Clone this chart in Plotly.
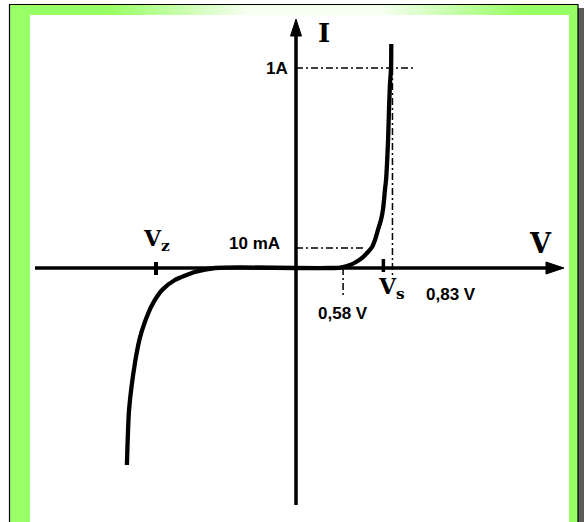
import numpy as np
import plotly.graph_objects as go

# ---- diode characteristic, forward branch (volts, amperes)
v_fwd = [0.0, 0.493, 0.561, 0.621, 0.655, 0.692, 0.717, 0.737, 0.751, 0.765, 0.779, 0.788,
         0.793, 0.797, 0.802, 0.806, 0.811, 0.815, 0.819, 0.824, 0.825]
i_fwd = [0.0, 0.0, 0.000006, 0.000225, 0.0009, 0.003, 0.0064, 0.011, 0.0196, 0.0361, 0.0576, 0.0841,
         0.1156, 0.152, 0.194, 0.265, 0.41, 0.624, 0.837, 1.0, 1.254]

# ---- reverse branch with breakdown
v_rev = [0.0, -0.76, -0.85, -0.93, -0.978, -1.014, -1.039, -1.056, -1.072, -1.092, -1.099]
i_rev = [0.0, 0.0, -0.0004, -0.0036, -0.0121, -0.0342, -0.073, -0.1225, -0.221, -0.504, -0.97]

# ---- marked values
v_marks = [0.58, 0.83]
v_mark_labels = ["0,58 V", "0,83 V"]
i_marks = [0.01, 1.0]
i_mark_labels = ["10 mA", "1A"]
v_z = -1.0      # breakdown voltage
v_s = 0.79      # threshold voltage

W, H = 584, 522
OX, OY = 296, 268          # origin on the page
KX, KY = 140.0, 200.0      # page pixels per display unit


def xd(v):
    """Schematic horizontal scale (signed square of the voltage)."""
    v = np.asarray(v, dtype=float)
    return np.sign(v) * v ** 2


def yd(i):
    """Schematic vertical scale (signed square root of the current)."""
    i = np.asarray(i, dtype=float)
    return np.sign(i) * np.sqrt(np.abs(i))


def ux(px):
    return (px - OX) / KX


def uy(py):
    return (OY - py) / KY


def paper_x(px):
    return px / W


def paper_y(py):
    return 1 - py / H


fig = go.Figure()

GREEN = (153, 255, 102)
shapes = []

# frame: black outline, green band, white panel, right drop shadow
shapes.append(dict(type="rect", xref="paper", yref="paper",
                   x0=paper_x(578), x1=paper_x(584), y0=paper_y(8), y1=paper_y(530),
                   fillcolor="#5a5a5a", line_width=0, layer="below"))
shapes.append(dict(type="rect", xref="paper", yref="paper",
                   x0=paper_x(9.5), x1=paper_x(578), y0=paper_y(4.5), y1=paper_y(530),
                   fillcolor="rgb(153,255,102)", line=dict(color="black", width=1.2), layer="below"))


def band_color(px):
    if px < 110:
        t = 1.0
    elif px < 250:
        t = 1.0 - 0.92 * (px - 110) / 140
    elif px < 380:
        t = 0.08
    elif px < 520:
        t = 0.08 + 0.92 * (px - 380) / 140
    else:
        t = 1.0
    r = int(round(255 * (1 - t) + GREEN[0] * t))
    g = int(round(255 * (1 - t) + GREEN[1] * t))
    b = int(round(255 * (1 - t) + GREEN[2] * t))
    return f"rgb({r},{g},{b})"


step = 6
for x0 in range(30, 569, step):
    x1 = min(x0 + step, 569)
    shapes.append(dict(type="rect", xref="paper", yref="paper",
                       x0=paper_x(x0), x1=paper_x(x1 + 0.5), y0=paper_y(5.2), y1=paper_y(15),
                       fillcolor=band_color((x0 + x1) / 2), line_width=0, layer="below"))

shapes.append(dict(type="rect", xref="paper", yref="paper",
                   x0=paper_x(30), x1=paper_x(569), y0=paper_y(15), y1=paper_y(530),
                   fillcolor="white", line_width=0, layer="below"))

# dash-dot guides
dd = dict(color="black", width=1.5, dash="7px,3px,2px,3px")
y1a = float(yd(i_marks[1]))
y10 = float(yd(i_marks[0]))
x58 = float(xd(v_marks[0]))
x83 = float(xd(v_marks[1]))
shapes += [
    dict(type="line", x0=0, x1=ux(415), y0=y1a, y1=y1a, line=dd),
    dict(type="line", x0=x83, x1=x83, y0=y1a, y1=uy(275), line=dd),
    dict(type="line", x0=0, x1=ux(366), y0=y10, y1=y10, line=dd),
    dict(type="line", x0=x58, x1=x58, y0=0, y1=uy(298), line=dd),
]

# axes lines
axis_line = dict(color="black", width=3.5)
shapes += [
    dict(type="line", x0=ux(35), x1=ux(548), y0=0, y1=0, line=axis_line),
    dict(type="line", x0=0, x1=0, y0=uy(505), y1=uy(34), line=axis_line),
    # small ticks at Vz and Vs
    dict(type="line", x0=float(xd(v_z)), x1=float(xd(v_z)), y0=uy(262), y1=uy(275),
         line=dict(color="black", width=4)),
    dict(type="line", x0=float(xd(v_s)), x1=float(xd(v_s)), y0=uy(259), y1=uy(272),
         line=dict(color="black", width=3.5)),
]

# arrow heads
shapes += [
    dict(type="path", path=f"M {ux(564)},{0} L {ux(546)},{uy(262)} L {ux(546)},{uy(274)} Z",
         fillcolor="black", line=dict(color="black", width=1)),
    dict(type="path", path=f"M {0},{uy(19)} L {ux(290.5)},{uy(36)} L {ux(301.5)},{uy(36)} Z",
         fillcolor="black", line=dict(color="black", width=1)),
]
fig.update_layout(shapes=shapes)

# characteristic curve
curve = dict(color="black", width=4.3)
fig.add_trace(go.Scatter(x=xd(v_fwd), y=yd(i_fwd), mode="lines",
                         line=dict(shape="spline", smoothing=0.6, **curve), hoverinfo="skip"))
fig.add_trace(go.Scatter(x=xd(v_rev), y=yd(i_rev), mode="lines",
                         line=dict(shape="spline", smoothing=0.6, **curve), hoverinfo="skip"))

sans = dict(family="Liberation Sans, Arial, sans-serif", size=17, color="black")
serif = dict(family="DejaVu Serif, serif", color="black")

ann = [
    dict(x=0, y=y1a, text=f"<b>{i_mark_labels[1]}</b>", xanchor="right", yanchor="middle",
         xshift=-6, font=sans),
    dict(x=0, y=y10, text=f"<b>{i_mark_labels[0]}</b>", xanchor="right", yanchor="middle",
         xshift=-14, yshift=5, font=sans),
    dict(x=x58, y=uy(313), text=f"<b>{v_mark_labels[0]}</b>", xanchor="center", yanchor="middle",
         font=sans),
    dict(x=ux(451), y=uy(294), text=f"<b>{v_mark_labels[1]}</b>", xanchor="center", yanchor="middle",
         font=sans),
    dict(x=ux(324), y=uy(33), text="<b>I</b>", xanchor="center", yanchor="middle",
         font=dict(size=26, **serif)),
    dict(x=ux(540), y=uy(243), text="<b>V</b>", xanchor="center", yanchor="middle",
         font=dict(size=27, **serif)),
    dict(x=float(xd(v_z)), y=uy(240), text="<b>V<sub>z</sub></b>", xanchor="center", yanchor="middle",
         font=dict(size=22, **serif)),
    dict(x=float(xd(v_s)) + ux(391) - ux(383), y=uy(288), text="<b>V<sub>s</sub></b>", xanchor="center",
         yanchor="middle", font=dict(size=22, **serif)),
]
for a in ann:
    a.update(xref="x", yref="y", showarrow=False)
fig.update_layout(annotations=ann)

fig.update_layout(
    width=W, height=H,
    margin=dict(l=0, r=0, t=0, b=0),
    paper_bgcolor="white", plot_bgcolor="rgba(0,0,0,0)",
    showlegend=False,
    xaxis=dict(range=[ux(0), ux(W)], visible=False, fixedrange=True),
    yaxis=dict(range=[uy(H), uy(0)], visible=False, fixedrange=True),
)

fig.write_html("out.html", config={"displayModeBar": False})
